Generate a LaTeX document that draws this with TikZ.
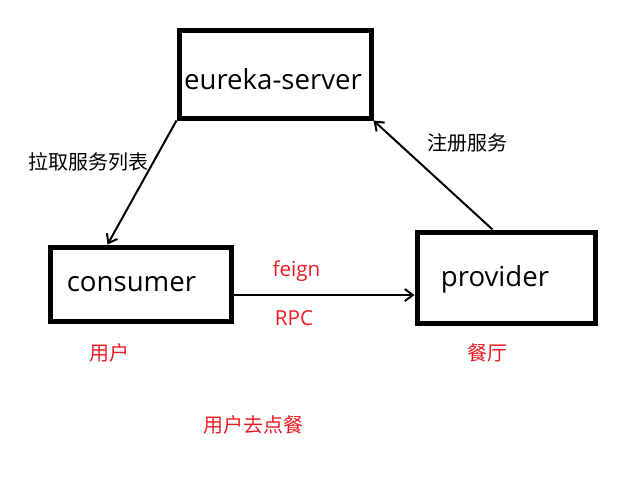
\documentclass[tikz,border=0pt]{standalone}
\usepackage{fontspec}
\setmainfont{Open Sans}
\newfontfamily\cjk{Noto Sans CJK SC}
\usetikzlibrary{arrows.meta}
\definecolor{paintred}{RGB}{237,28,36}
\begin{document}
\begin{tikzpicture}[x=0.75pt, y=-0.75pt]
    \tikzset{box/.style={rectangle, draw=black, line width=3.75pt, inner sep=0pt}}
    \tikzset{boxtext/.style={font=\fontsize{20.7}{24}\selectfont, inner sep=0pt}}
    \tikzset{redtext/.style={font=\fontsize{15.5}{18}\selectfont, text=paintred, inner sep=0pt}}
    \tikzset{note/.style={font=\cjk\fontsize{15}{18}\selectfont, inner sep=0pt}}
    \tikzset{arr/.style={line width=1.5pt, -{Straight Barb[length=6pt, width=9pt]}}}
    \useasboundingbox (0,0) rectangle (618,480);

    % ── BOXES ────────────────────────────────────────────
    \node[box, minimum width=144pt, minimum height=66pt] (eureka) at (275, 74) {};
    \node[box, minimum width=135.75pt, minimum height=55.5pt] (consumer) at (140.5, 284) {};
    \node[box, minimum width=133.5pt, minimum height=68.25pt] (provider) at (506, 277.5) {};

    % Testo nei box
    \node[boxtext] (eurekatext) at (273, 79) {eureka-server};
    \node[boxtext] (consumertext) at (131.5, 284) {consumer};
    \node[boxtext] (providertext) at (495, 279) {provider};

    % ── ARROWS ───────────────────────────────────────────
    \draw[arr] (eureka.south west) -- ([xshift=45pt]consumer.north west);
    \draw[arr] ([xshift=58.5pt]provider.north west) -- (eureka.south east);
    \draw[arr] ([yshift=-8.25pt]consumer.east) coordinate (rpcstart) -- (rpcstart -| provider.west);

    % ── LABELS ───────────────────────────────────────────
    \node[note] (pull) at (88, 162) {拉取服务列表};
    \node[note] (register) at (467, 143) {注册服务};
    \node[redtext] (feign) at (296.5, 271) {feign};
    \node[redtext] (rpc) at (294, 318) {RPC};
    \node[note, text=paintred] (user) at (109, 353) {用户};
    \node[note, text=paintred] (restaurant) at (487, 353) {餐厅};
    \node[note, text=paintred] (order) at (253.5, 425) {用户去点餐};

\end{tikzpicture}
\end{document}
